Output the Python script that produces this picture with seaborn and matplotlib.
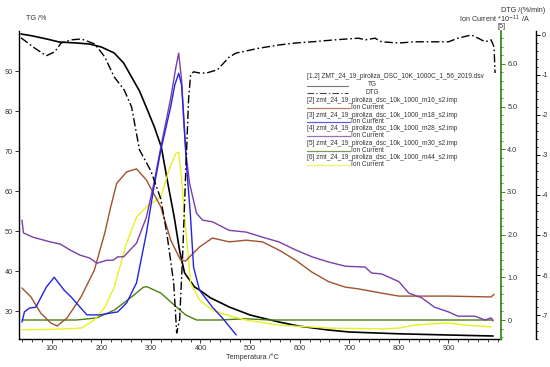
import numpy as np
import pandas as pd
import matplotlib
matplotlib.use("Agg")
import matplotlib.pyplot as plt
from matplotlib.lines import Line2D
from matplotlib.ticker import MultipleLocator, FuncFormatter
import seaborn as sns

# ---------------- data ----------------
tg_T = [38, 60, 90, 115, 150, 176, 200, 226, 245, 261, 277, 293, 307, 321, 334, 347, 358, 368,
        378, 388, 398, 420, 458, 500, 558, 600, 658, 700, 800, 900, 990]
tg_V = [99.25, 98.8, 98.0, 97.25, 97.0, 96.75, 96.0, 94.5, 92.0, 88.5, 85.0, 80.25, 76.0, 71.0,
        62.0, 53.5, 45.0, 39.5, 37.75, 36.0, 35.25, 33.3, 31.0, 29.0, 27.25, 26.2, 25.25, 24.75,
        24.3, 24.0, 23.75]

dtg_T = [38, 66, 89, 106, 119, 140, 160, 186, 196, 207, 226, 246, 261, 277, 300, 320, 332, 346,
         352, 358, 364, 370, 376, 380, 386, 398, 412, 434, 458, 472, 484, 518, 558, 592, 625, 672,
         718, 733, 752, 765, 800, 833, 866, 900, 919, 946, 960, 974, 986, 992, 994]
dtg_V = [-0.07, -0.33, -0.52, -0.42, -0.2, -0.12, -0.1, -0.22, -0.37, -0.55, -1.05, -1.37, -1.8,
         -2.87, -3.4, -4.1, -4.95, -6.2, -7.45, -7.1, -5.5, -3.5, -1.6, -1.0, -0.92, -0.95, -0.95,
         -0.87, -0.55, -0.45, -0.42, -0.33, -0.25, -0.2, -0.17, -0.12, -0.08, -0.12, -0.08, -0.17,
         -0.2, -0.17, -0.17, -0.17, -0.08, 0.0, -0.08, -0.17, -0.12, -0.3, -0.95]

m16_T = [40, 58, 78, 98, 111, 131, 159, 186, 207, 219, 231, 251, 271, 291, 320, 340, 360, 370,
         378, 398, 424, 458, 492, 525, 558, 592, 625, 658, 692, 718, 765, 800, 900, 986, 992]
m16_I = [0.75, 0.54, 0.16, -0.07, -0.14, 0.05, 0.54, 1.17, 2.04, 2.65, 3.2, 3.47, 3.54, 3.28,
         2.65, 1.87, 1.4, 1.38, 1.48, 1.71, 1.92, 1.83, 1.87, 1.83, 1.64, 1.4, 1.12, 0.9, 0.77,
         0.73, 0.63, 0.56, 0.56, 0.54, 0.6]

m18_T = [40, 45, 55, 68, 89, 105, 125, 139, 171, 197, 233, 251, 271, 291, 305, 320, 340, 348,
         356, 362, 366, 372, 380, 386, 398, 424, 444, 472]
m18_I = [-0.05, 0.19, 0.28, 0.3, 0.77, 1.0, 0.7, 0.54, 0.12, 0.12, 0.19, 0.4, 0.87, 2.04, 3.04,
         3.98, 5.0, 5.5, 5.78, 5.5, 4.8, 3.6, 2.4, 1.24, 0.7, 0.3, 0.05, -0.35]

m28_T = [40, 43, 62, 97, 117, 137, 157, 177, 191, 211, 224, 233, 245, 271, 291, 306, 320, 340,
         350, 356, 362, 366, 370, 378, 392, 404, 424, 458, 492, 525, 558, 592, 625, 658, 692, 732,
         745, 765, 800, 820, 846, 872, 900, 919, 953, 974, 986, 990]
m28_I = [2.34, 2.04, 1.94, 1.83, 1.78, 1.64, 1.52, 1.45, 1.33, 1.4, 1.4, 1.48, 1.48, 1.8, 2.41,
         3.2, 4.05, 5.2, 5.9, 6.25, 5.6, 4.7, 3.98, 3.2, 2.5, 2.34, 2.3, 2.1, 2.06, 1.94, 1.83,
         1.64, 1.48, 1.36, 1.26, 1.24, 1.1, 1.08, 0.9, 0.63, 0.52, 0.3, 0.19, 0.09, 0.09, 0.0,
         0.05, -0.02]

m30_T = [40, 100, 150, 191, 226, 261, 285, 292, 320, 352, 370, 392, 440, 490, 540, 600, 800, 990]
m30_I = [0.0, 0.0, 0.0, 0.05, 0.23, 0.54, 0.77, 0.78, 0.63, 0.3, 0.12, 0.0, 0.0, 0.03, 0.0, 0.0,
         0.0, 0.0]

m44_T = [40, 100, 160, 186, 207, 226, 251, 271, 291, 320, 336, 350, 356, 362, 368, 380, 398, 424,
         458, 492, 558, 658, 765, 800, 832, 866, 900, 933, 986]
m44_I = [-0.23, -0.22, -0.19, 0.0, 0.3, 0.77, 1.8, 2.41, 2.65, 2.88, 3.5, 3.9, 3.93, 3.3, 2.41,
         0.87, 0.47, 0.23, 0.1, 0.0, -0.12, -0.19, -0.21, -0.19, -0.12, -0.09, -0.07, -0.12, -0.16]

x_ticks = [100, 200, 300, 400, 500, 600, 700, 800, 900]
tg_ticks = [30, 40, 50, 60, 70, 80, 90]
ion_ticks = [0, 1, 2, 3, 4, 5, 6]
dtg_ticks = [0, -1, -2, -3, -4, -5, -6, -7]

legend_head = "[1.2] ZMT_24_19_piroliza_DSC_10K_1000C_1_56_2019.dsv"
ion_names = ["[2] zmt_24_19_piroliza_dsc_10k_1000_m16_s2.imp",
             "[3] zmt_24_19_piroliza_dsc_10k_1000_m18_s2.imp",
             "[4] zmt_24_19_piroliza_dsc_10k_1000_m28_s2.imp",
             "[5] zmt_24_19_piroliza_dsc_10k_1000_m30_s2.imp",
             "[6] zmt_24_19_piroliza_dsc_10k_1000_m44_s2.imp"]

# ---------------- style ----------------
sns.set_style("white")
plt.rcParams['font.family'] = ['Liberation Sans', 'DejaVu Sans']
plt.rcParams['axes.unicode_minus'] = False
FS = 5.2
LFS = 4.7
TXT = "#333333"

c_brown = "#a0522d"
c_blue = "#2424e0"
c_purple = "#7a3fa8"
c_green = "#4c7f12"
c_yellow = "#e8f022"
c_gspine = "#3c8c1c"

W, H = 550, 367
fig = plt.figure(figsize=(W / 100, H / 100), dpi=100)
L, R, T_, B = 19, 501, 31, 339
ax = fig.add_axes([L / W, 1 - B / H, (R - L) / W, (B - T_) / H])
ax_ion = ax.twinx()
ax_dtg = ax.twinx()

xlim = (34, 1006)

# TG
sns.lineplot(x=tg_T, y=tg_V, ax=ax, color="black", lw=1.2, estimator=None, sort=False)
ax.set_xlim(*xlim)
ax.set_ylim(23, 100)

# DTG
sns.lineplot(x=dtg_T, y=dtg_V, ax=ax_dtg, color="black", lw=1.0, estimator=None, sort=False)
ax_dtg.lines[-1].set_linestyle((0, (6, 2, 1.2, 2)))
ax_dtg.set_ylim(-7.6, 0.1)

# ion currents
for tt, ii, cc in [(m30_T, m30_I, c_green), (m44_T, m44_I, c_yellow), (m16_T, m16_I, c_brown),
                   (m28_T, m28_I, c_purple), (m18_T, m18_I, c_blue)]:
    sns.lineplot(x=tt, y=ii, ax=ax_ion, color=cc, lw=1.0, estimator=None, sort=False)
ax_ion.set_ylim(-0.445, 6.77)

for a in (ax, ax_ion, ax_dtg):
    a.set_xlim(*xlim)
    a.set_xlabel("")
    a.set_ylabel("")
    a.patch.set_visible(False)

# spines
for s in ("top", "right"):
    ax.spines[s].set_visible(False)
for s in ("top", "left", "bottom"):
    ax_ion.spines[s].set_visible(False)
    ax_dtg.spines[s].set_visible(False)
ax_dtg.spines["right"].set_visible(True)
ax_ion.spines["right"].set_color(c_gspine)
ax_ion.spines["right"].set_linewidth(1.3)
ax_dtg.spines["right"].set_position(("outward", 25))
ax_dtg.spines["right"].set_linewidth(1.0)
ax.spines["left"].set_linewidth(1.0)
ax.spines["bottom"].set_linewidth(1.0)
ax.spines["left"].set_color("black")
ax.spines["bottom"].set_color("black")
ax_dtg.spines["right"].set_color("black")

# ticks
ax.set_xticks(x_ticks)
ax.xaxis.set_minor_locator(MultipleLocator(20))
ax.set_yticks(tg_ticks)
ax.tick_params(axis="x", which="major", direction="out", length=3, width=0.7, labelsize=FS,
               colors=TXT, pad=1.0, bottom=True)
ax.tick_params(axis="x", which="minor", direction="out", length=1.8, width=0.6, bottom=True)
ax.tick_params(axis="y", which="major", direction="out", length=3, width=0.7, labelsize=FS,
               colors=TXT, pad=1.5, left=True)

ax_ion.set_yticks(ion_ticks)
ax_ion.yaxis.set_major_formatter(FuncFormatter(lambda v, p: "0" if v == 0 else f"{v:.1f}"))
ax_ion.yaxis.set_minor_locator(MultipleLocator(0.2))
ax_ion.tick_params(axis="y", which="major", direction="out", length=3, width=0.7,
                   labelsize=FS, labelcolor=TXT, color=c_gspine, pad=1.5, right=True)
ax_ion.tick_params(axis="y", which="minor", direction="out", length=1.5, width=0.6,
                   color=c_gspine, right=True)

ax_dtg.set_yticks(dtg_ticks)
ax_dtg.yaxis.set_major_formatter(FuncFormatter(lambda v, p: f"{int(round(v))}"))
ax_dtg.yaxis.set_minor_locator(MultipleLocator(0.2))
ax_dtg.tick_params(axis="y", which="major", direction="out", length=3, width=0.7,
                   labelsize=FS, labelcolor=TXT, color="black", pad=1.5, right=True)
ax_dtg.tick_params(axis="y", which="minor", direction="out", length=1.5, width=0.6,
                   color="black", right=True)

# axis titles
fig.text(26 / W, 1 - 18 / H, "TG /%", fontsize=FS, color=TXT, ha="left", va="center")
fig.text(252 / W, 1 - 357 / H, "Temperatura /°C", fontsize=FS, color=TXT, ha="center", va="center")
fig.text(545 / W, 1 - 11 / H, "DTG /(%/min)", fontsize=FS, color=TXT, ha="right", va="center")
fig.text(530 / W, 1 - 19 / H, "Ion Current *10$^{-11}$ /A", fontsize=FS, color=TXT,
         ha="right", va="center")
fig.text(501 / W, 1 - 27 / H, "[5]", fontsize=FS, color=TXT, ha="center", va="center")

# legend drawn as text + sample lines
def fline(x0, x1, y, **kw):
    fig.add_artist(Line2D([x0 / W, x1 / W], [1 - y / H, 1 - y / H], transform=fig.transFigure, **kw))

def ftext(x, y, s, ha="left"):
    fig.text(x / W, 1 - y / H, s, fontsize=LFS, color=TXT, ha=ha, va="center")

ftext(307, 77, legend_head)
fline(307, 348, 86, color="#777777", lw=0.8)
ftext(372, 84, "TG", ha="center")
fline(307, 348, 93, color="#444444", lw=0.8, linestyle=(0, (6, 2, 1.2, 2)))
ftext(372, 92, "DTG", ha="center")
leg_cols = [c_brown, c_blue, c_purple, c_green, c_yellow]
leg_y = [101, 115, 129, 143.5, 158]
for name, col, yy in zip(ion_names, leg_cols, leg_y):
    ftext(307, yy, name)
    fline(307, 350, yy + 7, color=col, lw=0.9, alpha=0.75)
    ftext(351, yy + 6.5, "Ion Current")

fig.savefig("out.png", dpi=100)
